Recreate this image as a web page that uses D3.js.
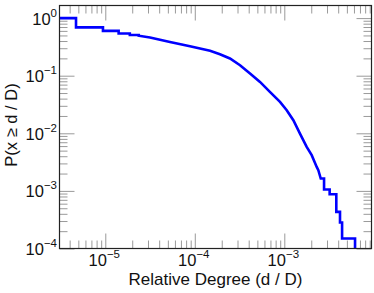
<!DOCTYPE html>
<html>
<head>
<meta charset="utf-8">
<script src="https://cdn.jsdelivr.net/npm/d3@7"></script>
<style>
  html, body { margin: 0; padding: 0; background: #fff; }
  #chart { width: 374px; height: 293px; }
  svg { display: block; font-family: "Liberation Sans", Arial, Helvetica, sans-serif; }
  .tick line { stroke: #9a9a9a; }
  .frame { fill: none; stroke: #222; stroke-width: 1.2; }
</style>
</head>
<body>
<div id="chart"></div>
<script>
// vertices of the plotted CCDF
const relDegree = [
  3.1e-6, 4.71e-6, 4.71e-6, 9.42e-6, 9.42e-6, 1.41e-5, 1.41e-5, 1.88e-5,
  1.88e-5, 2.36e-5, 2.36e-5, 3.16e-5, 5.28e-5, 8.83e-5, 1.48e-4, 1.91e-4,
  2.47e-4, 3.2e-4, 4.14e-4, 5.35e-4, 6.9e-4, 8.95e-4, 1.064e-3, 1.262e-3,
  1.496e-3, 1.778e-3, 2.023e-3, 2.301e-3, 2.399e-3, 2.553e-3, 2.78e-3,
  2.78e-3, 3.21e-3, 3.21e-3, 3.81e-3, 3.81e-3, 4.19e-3, 4.19e-3, 4.42e-3,
  4.42e-3, 6.17e-3, 6.17e-3,
];
const fraction = [
  1, 1, 0.69, 0.69, 0.6, 0.6, 0.54, 0.54,
  0.51, 0.51, 0.495, 0.46, 0.386, 0.325, 0.27, 0.236,
  0.199, 0.152, 0.109, 0.078, 0.0524, 0.0351, 0.0252, 0.0169,
  0.0099, 0.0058, 0.00417, 0.00261, 0.00229, 0.00164, 0.00164,
  0.00106, 0.00106, 0.000877, 0.000877, 0.000432, 0.000432, 0.000283, 0.000283,
  0.000149, 0.000149, 0.00005,
];

const xExponents = [-5, -4, -3];
const yExponents = [-4, -3, -2, -1, 0];
const xDomain = [3.08e-6, 9.42e-3];
const yDomain = [1e-4, 1.655];

const xTitle = "Relative Degree (d / D)";
const yTitle = "P(x \u2265 d / D)";

const width = 374;
const height = 293;
const marginTop = 5.5;
const marginRight = 2.5;
const marginBottom = 44.5;
const marginLeft = 59.5;
const majorSize = 15;
const minorSize = 8;

const x = d3.scaleLog().domain(xDomain).range([marginLeft, width - marginRight]);
const y = d3.scaleLog().domain(yDomain).range([height - marginBottom, marginTop]);

const isPow10 = (v) => Math.abs(Math.log10(v) - Math.round(Math.log10(v))) < 1e-9;
const xMajor = xExponents.map((e) => Math.pow(10, e));
const yMajor = yExponents.map((e) => Math.pow(10, e));
const xMinor = x.ticks().filter((v) => !isPow10(v));
const yMinor = y.ticks().filter((v) => !isPow10(v));

const svg = d3.select("#chart").append("svg")
  .attr("width", width)
  .attr("height", height)
  .attr("viewBox", [0, 0, width, height]);

const bottom = height - marginBottom;
const right = width - marginRight;

// inward ticks on all four sides
function ticks(axisFn, scale, values, size, transform) {
  svg.append("g")
    .attr("transform", transform)
    .call(axisFn(scale).tickValues(values).tickSize(-size).tickFormat(""))
    .call((g) => g.select(".domain").remove());
}
ticks(d3.axisBottom, x, xMinor, minorSize, `translate(0,${bottom})`);
ticks(d3.axisBottom, x, xMajor, majorSize, `translate(0,${bottom})`);
ticks(d3.axisTop, x, xMinor, minorSize, `translate(0,${marginTop})`);
ticks(d3.axisTop, x, xMajor, majorSize, `translate(0,${marginTop})`);
ticks(d3.axisLeft, y, yMinor, minorSize, `translate(${marginLeft},0)`);
ticks(d3.axisLeft, y, yMajor, majorSize, `translate(${marginLeft},0)`);
ticks(d3.axisRight, y, yMinor, minorSize, `translate(${right},0)`);
ticks(d3.axisRight, y, yMajor, majorSize, `translate(${right},0)`);

svg.append("clipPath").attr("id", "plot-clip")
  .append("rect")
  .attr("x", marginLeft)
  .attr("y", marginTop)
  .attr("width", right - marginLeft)
  .attr("height", bottom - marginTop);

const line = d3.line()
  .x((d) => x(d[0]))
  .y((d) => y(d[1]));

svg.append("path")
  .attr("clip-path", "url(#plot-clip)")
  .attr("fill", "none")
  .attr("stroke", "#0000ff")
  .attr("stroke-width", 2.6)
  .attr("stroke-linejoin", "miter")
  .attr("d", line(relDegree.map((d, i) => [d, fraction[i]])));

svg.append("rect")
  .attr("class", "frame")
  .attr("x", marginLeft)
  .attr("y", marginTop)
  .attr("width", right - marginLeft)
  .attr("height", bottom - marginTop);

// power-of-ten labels
const powLabel = (sel) =>
  sel.attr("fill", "#111")
    .attr("font-size", 16.5)
    .call((t) => t.append("tspan").text("10"))
    .call((t) =>
      t.append("tspan")
        .attr("font-size", 11.5)
        .attr("dy", -8)
        .text((e) => (e < 0 ? "\u2212" + -e : e))
    );

svg.append("g")
  .selectAll("text")
  .data(xExponents)
  .join("text")
  .attr("text-anchor", "middle")
  .attr("x", (e) => x(Math.pow(10, e)) - 1)
  .attr("y", bottom + 17)
  .call(powLabel);

svg.append("g")
  .selectAll("text")
  .data(yExponents)
  .join("text")
  .attr("text-anchor", "end")
  .attr("x", marginLeft - 2.5)
  .attr("y", (e) => y(Math.pow(10, e)) + 6.5)
  .call(powLabel);

svg.append("text")
  .attr("fill", "#111")
  .attr("font-size", 17)
  .attr("text-anchor", "middle")
  .attr("x", (marginLeft + right) / 2)
  .attr("y", height - 8)
  .text(xTitle);

svg.append("text")
  .attr("fill", "#111")
  .attr("font-size", 16.5)
  .attr("text-anchor", "middle")
  .attr("transform", `translate(17,${(marginTop + bottom) / 2 - 2})rotate(-90)`)
  .text(yTitle);
</script>
</body>
</html>
